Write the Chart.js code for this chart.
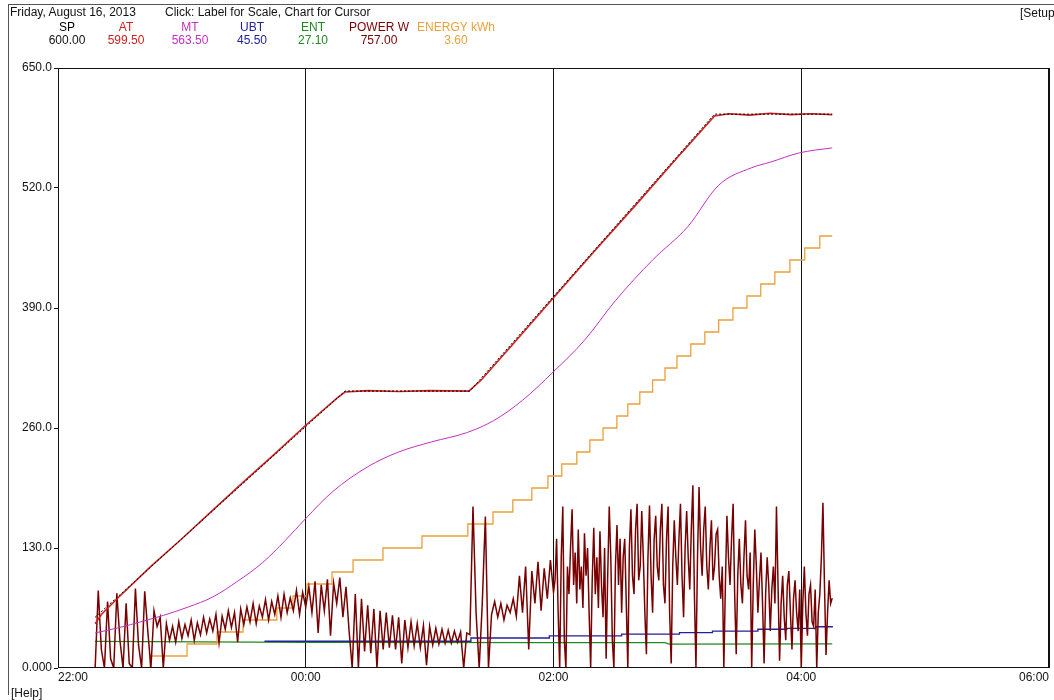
<!DOCTYPE html>
<html>
<head>
<meta charset="utf-8">
<script src="https://cdn.jsdelivr.net/npm/chart.js@4"></script>
<style>
  body { margin: 0; background: #fff; font-family: "Liberation Sans", Arial, sans-serif; font-size: 12px; }
  #wrap { position: relative; width: 1054px; height: 700px; overflow: hidden; }
  #frame { position: absolute; left: 8px; top: 4px; width: 1046px; height: 690px; border-left: 1px solid #555; border-top: 1px solid #555; }
  .t { position: absolute; white-space: nowrap; color: #111; }
  .c { transform: translateX(-50%); }
  canvas { position: absolute; left: 0; top: 0; }
</style>
</head>
<body>
<div id="wrap">
  <div id="frame"></div>
  <canvas id="chart" width="1054" height="700"></canvas>
</div>
<script>
// time axis is minutes after 22:00
const xTickLabels = ['22:00', '00:00', '02:00', '04:00', '06:00']
const yTickLabels = ['0.000', '130.0', '260.0', '390.0', '520.0', '650.0']

const readoutNames = ['SP', 'AT', 'MT', 'UBT', 'ENT', 'POWER W', 'ENERGY kWh']
const readoutValues = ['600.00', '599.50', '563.50', '45.50', '27.10', '757.00', '3.60']

const spTime = [18, 139, 199.5, 318, 375]
const spValue = [55, 300, 300, 600, 600]

const atTime = [18, 21, 30, 45, 60, 75, 90, 105, 120, 135, 139, 150, 165, 180, 199, 205, 220, 240, 260, 280, 300, 318, 325, 335, 345, 355, 365, 375]
const atValue = [48, 58, 78, 110, 140, 171, 202, 232, 263, 292, 299, 300.5, 299.5, 300.5, 300, 312, 350, 401, 452, 502, 553, 598, 600.5, 599, 601, 599.5, 600.5, 599.5]

const mtTime = [18, 30, 40, 51, 63, 75, 87, 99, 110, 120, 133, 150, 165, 181, 198, 211, 225, 240, 255, 270, 288, 305, 320, 336, 345, 359, 375]
const mtValue = [38, 44, 50, 57, 66, 77, 94, 114, 138, 162, 191, 218, 234, 245, 255, 268, 290, 321, 355, 398, 442, 478, 523, 542, 548, 558, 563.5]

const ubtTime = [100, 200, 238, 273, 301, 317, 339, 353, 367, 375]
const ubtValue = [29, 32.5, 34.7, 36.8, 38.3, 40, 42, 43, 44.7, 45.5]

const entTime = [18, 120, 240, 294, 296, 375]
const entValue = [28.8, 27.8, 27.4, 27.4, 25.9, 26.1]

const energyTime = [18, 44.6, 62.5, 77, 89.6, 106, 113.8, 120.6, 132.7, 142.9, 157.4, 176.3, 198.5, 210.7, 220.3, 229.5, 237.3, 244, 251.3, 257.6, 264, 270.7, 276, 281.8, 288, 294, 299.8, 306.5, 313.3, 320, 326.9, 333.7, 340.4, 347.2, 354.5, 361.7, 369, 375]
const energyKWh = [0, 0.1, 0.2, 0.3, 0.4, 0.5, 0.6, 0.7, 0.8, 0.9, 1.0, 1.1, 1.2, 1.3, 1.4, 1.5, 1.6, 1.7, 1.8, 1.9, 2.0, 2.1, 2.2, 2.3, 2.4, 2.5, 2.6, 2.7, 2.8, 2.9, 3.0, 3.1, 3.2, 3.3, 3.4, 3.5, 3.6, 3.6]

// power, W: every 1.5 min from 22:18 to 02:00, then every 0.75 min to the end
const powerStart = 18
const powerInterval = 1.5
const powerW = [
  0, 840, 200, 0, 720, 100, 0, 810, 300, 0,
  700, 50, 0, 860, 250, 0, 830, 400, 0, 620,
  450, 550,
  0, 480, 300, 450, 280, 500, 320, 470, 350, 520,
  300, 490, 360, 550, 380, 530, 400, 580, 270, 560,
  420, 620, 440, 600, 280, 640, 470, 660, 500, 700,
  480, 670, 550, 740, 520, 720, 580, 780, 550, 800,
  600, 760, 620, 840, 580, 820, 660,
  880, 600, 940, 380, 900, 620, 960, 350, 920, 700, 980, 550, 880, 400,
  0, 800, 0, 750, 180, 680, 160, 640, 0, 620,
  200, 600, 220, 570, 200, 550, 50, 520, 220, 500,
  240, 480, 220, 460, 30, 450, 250, 430, 260, 420,
  270, 410, 270, 400, 280, 390, 0, 380, 360,
  1750, 600, 0, 700, 1640, 0, 580, 720, 550, 700,
  520, 680, 600, 750, 560, 1000, 600, 1100, 200, 1050,
  700, 1150, 620, 1080, 750, 1170, 820
]
const powerLateStart = 240.75
const powerLateInterval = 0.75
const powerLateW = [
  950, 1400, 600, 0, 1200, 1750, 300, 0, 1100, 800, 1300, 1720, 900, 1250, 700, 1500, 850, 1100, 650, 1460,
  1000, 1300, 600, 0, 950, 1520, 800, 1200, 650, 1480, 900, 550, 1300, 100, 1000, 1750, 1200, 300, 0, 1100,
  1550, 900, 1400, 600, 1200, 1400, 700, 0, 1300, 1720, 1000, 800, 1500, 1780, 950, 1100, 1700, 1200, 600, 150,
  1200, 1760, 1000, 600, 1400, 1650, 1100, 950, 1500, 1780, 900, 700, 1400, 1750, 600, 50, 1100, 1600, 1200, 900,
  1400, 1780, 1000, 550, 1300, 1700, 1200, 850, 1500, 1980, 800, 0, 1200, 1960, 1300, 1000, 1500, 1750, 1100, 850,
  1300, 1600, 950, 1100, 1450, 1500, 1000, 750, 1100, 0, 900, 1650, 1200, 900, 1400, 1780, 800, 150, 1000, 1400,
  900, 700, 1200, 1600, 1000, 850, 1250, 0, 900, 1500, 1100, 600, 950, 1250, 700, 50, 800, 1200, 900, 400,
  850, 1100, 700, 1750, 900, 80, 700, 1000, 550, 300, 900, 1050, 600, 200, 750, 950, 600, 400, 850, 0,
  700, 1100, 600, 350, 800, 900, 500, 450, 850, 0, 600, 800, 1200, 1790, 900, 140, 600, 950, 700, 757
]

const colors = {
  SP: '#000000', AT: '#d02020', MT: '#c030c0', UBT: '#22229a',
  ENT: '#1f8a1f', POWER: '#780000', ENERGY: '#eca03a'
}
const readoutColors = [colors.SP, colors.AT, colors.MT, colors.UBT, colors.ENT, colors.POWER, colors.ENERGY]

const pairs = (xs, ys) => xs.map((x, i) => ({ x, y: ys[i] }))
const powerData = powerW.map((w, i) => ({ x: powerStart + i * powerInterval, y: w }))
  .concat(powerLateW.map((w, i) => ({ x: powerLateStart + i * powerLateInterval, y: w })))

// header text
const wrap = document.getElementById('wrap')
function addText(text, left, top, color, center) {
  const d = document.createElement('div')
  d.className = 't' + (center ? ' c' : '')
  d.textContent = text
  d.style.left = left + 'px'
  d.style.top = top + 'px'
  if (color) d.style.color = color
  wrap.appendChild(d)
}
addText('Friday, August 16, 2013', 10, 5)
addText('Click: Label for Scale, Chart for Cursor', 165, 5)
addText('[Setup', 1020, 6)
addText('[Help]', 11, 686)
const legendCenters = [67, 126, 190, 252, 313, 379, 456]
readoutNames.forEach((n, i) => {
  addText(n, legendCenters[i], 20, readoutColors[i], true)
  addText(readoutValues[i], legendCenters[i], 33, i === 0 ? '#111' : readoutColors[i], true)
})

const framePlugin = {
  id: 'frame',
  afterDatasetsDraw(chart) {
    const { ctx, chartArea: a } = chart
    ctx.save()
    ctx.strokeStyle = '#111'
    ctx.lineWidth = 1
    ctx.strokeRect(a.left + 0.5, a.top + 0.5, a.right - a.left - 1, a.bottom - a.top - 1)
    ctx.restore()
  }
}

const font = { family: '"Liberation Sans", Arial, sans-serif', size: 12 }

new Chart(document.getElementById('chart'), {
  type: 'line',
  data: {
    datasets: [
      { label: 'SP', data: pairs(spTime, spValue), borderColor: colors.SP, borderWidth: 1, borderDash: [2, 2], order: 0 },
      { label: 'AT', data: pairs(atTime, atValue), borderColor: colors.AT, borderWidth: 1.6, order: 1 },
      { label: 'MT', data: pairs(mtTime, mtValue), borderColor: colors.MT, borderWidth: 1, cubicInterpolationMode: 'monotone', order: 2 },
      { label: 'POWER W', data: powerData, borderColor: colors.POWER, borderWidth: 1.5, yAxisID: 'yP', order: 3 },
      { label: 'ENERGY kWh', data: pairs(energyTime, energyKWh), borderColor: colors.ENERGY, borderWidth: 1.3, stepped: true, yAxisID: 'yE', order: 4 },
      { label: 'UBT', data: pairs(ubtTime, ubtValue), borderColor: colors.UBT, borderWidth: 1.3, stepped: true, order: 5 },
      { label: 'ENT', data: pairs(entTime, entValue), borderColor: colors.ENT, borderWidth: 1.2, order: 6 }
    ]
  },
  options: {
    responsive: false,
    animation: false,
    layout: { padding: { top: 68, right: 5, left: 0, bottom: 0 } },
    elements: { point: { radius: 0 }, line: { tension: 0, fill: false } },
    plugins: { legend: { display: false }, tooltip: { enabled: false } },
    scales: {
      x: {
        type: 'linear', min: 0, max: 480,
        afterFit: s => { s.height = 32 },
        grid: { color: '#111', lineWidth: 1, drawTicks: false },
        border: { display: false },
        ticks: {
          stepSize: 120, autoSkip: false, maxRotation: 0, align: 'inner', padding: 2,
          color: '#111', font,
          callback: (v, i) => xTickLabels[i]
        }
      },
      y: {
        min: 0, max: 650,
        afterFit: s => { s.width = 58 },
        grid: { drawOnChartArea: false, color: '#111', tickLength: 4 },
        border: { display: false },
        ticks: { stepSize: 130, padding: 2, color: '#111', font, callback: (v, i) => yTickLabels[i] }
      },
      yP: { min: 0, max: 6500, display: false },
      yE: { min: 0, max: 5, display: false }
    }
  },
  plugins: [framePlugin]
})
</script>
</body>
</html>
